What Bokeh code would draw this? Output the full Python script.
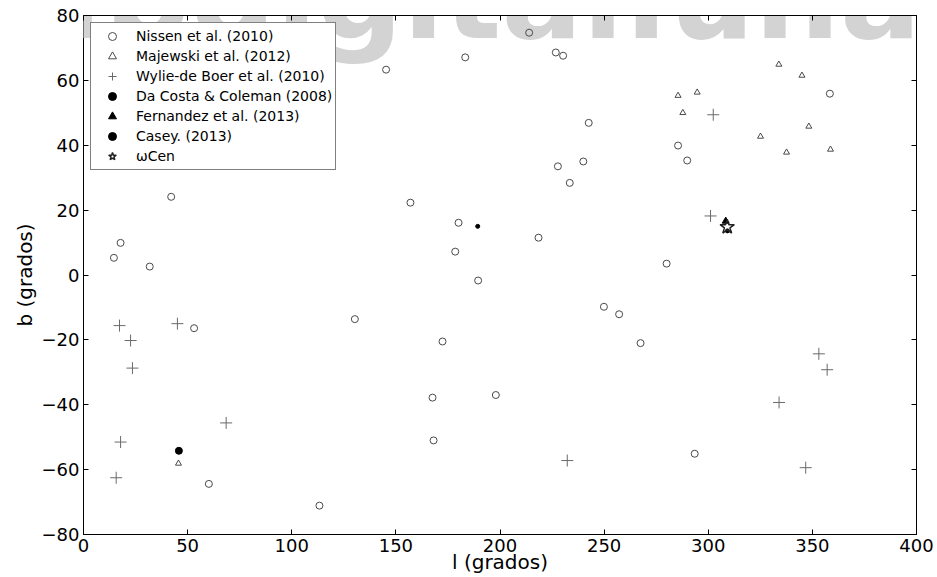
from bokeh.plotting import figure
from bokeh.models import Range1d, LinearAxis, FixedTicker, Label, Legend, LegendItem
from bokeh.embed import file_html
from bokeh.resources import INLINE

# ---- data ----
nissen_l = [14.6, 17.8, 31.8, 42.1, 53.1, 130.3, 60.2, 113.3, 145.3, 183.3, 214.0, 226.8,
            230.3, 242.6, 240.0, 227.8, 233.5, 157.0, 180.1, 218.5, 178.5, 280.0, 189.5,
            249.9, 257.2, 267.5, 172.4, 167.6, 198.0, 168.1, 358.4, 285.5, 289.9, 293.5]
nissen_b = [5.3, 9.9, 2.6, 24.1, -16.4, -13.6, -64.4, -71.1, 63.3, 67.1, 74.7, 68.6,
            67.6, 46.9, 35.0, 33.5, 28.4, 22.3, 16.1, 11.5, 7.2, 3.5, -1.7,
            -9.8, -12.1, -21.0, -20.5, -37.8, -37.0, -51.0, 55.9, 39.9, 35.3, -55.1]

majewski_l = [45.6, 285.5, 294.7, 287.8, 333.9, 345.0, 348.3, 325.1, 337.6, 358.7]
majewski_b = [-58.1, 55.3, 56.3, 50.0, 64.9, 61.5, 45.8, 42.7, 37.8, 38.7]

wylie_l = [17.3, 45.1, 22.6, 23.5, 17.8, 15.7, 68.5, 232.3, 302.4, 301.1, 353.1, 357.1, 334.0, 346.8]
wylie_b = [-15.6, -15.0, -20.2, -28.7, -51.5, -62.5, -45.6, -57.2, 49.4, 18.2, -24.3, -29.2, -39.3, -59.4]

dacosta_l = [189.3, 309.2]
dacosta_b = [15.0, 13.6]

fernandez_l = [308.4]
fernandez_b = [16.6]

casey_l = [45.8]
casey_b = [-54.2]

omega_l = [309.1]
omega_b = [14.8]

x_ticks = [0, 50, 100, 150, 200, 250, 300, 350, 400]
y_ticks = [-80, -60, -40, -20, 0, 20, 40, 60, 80]

watermark = "www.bdigital.unal.edu.co"

FONT = "DejaVu Sans"
MC = "#4a4a4a"

p = figure(width=937, height=577, output_backend="svg", toolbar_location=None,
           x_range=Range1d(0, 400), y_range=Range1d(-80, 80),
           min_border_left=83, min_border_right=21, min_border_top=15, min_border_bottom=43)
p.grid.visible = False
p.outline_line_color = "black"
p.outline_line_width = 1
p.background_fill_color = "white"
p.border_fill_color = "white"

# watermark (drawn as annotation so it is not clipped to the frame)
wm = Label(x=-168, y=86, text=watermark, text_font=FONT, text_font_style="bold",
           text_font_size="120px", text_color="#d3d3d3", text_baseline="alphabetic")
p.add_layout(wm)

def style_axis(ax, show_labels=True):
    ax.axis_line_color = "black"
    ax.major_tick_in = 5
    ax.major_tick_out = 0
    ax.minor_tick_in = 0
    ax.minor_tick_out = 0
    ax.major_tick_line_color = "black"
    ax.major_label_text_font = FONT
    ax.major_label_text_color = "black"
    ax.major_label_text_font_size = "18px"
    ax.major_label_standoff = 4

def lab(v):
    return str(v).replace("-", "\u2212")

p.xaxis.ticker = FixedTicker(ticks=x_ticks)
p.yaxis.ticker = FixedTicker(ticks=y_ticks)
style_axis(p.xaxis[0])
style_axis(p.yaxis[0])
p.xaxis.major_label_overrides = {v: lab(v) for v in x_ticks}
p.yaxis.major_label_overrides = {v: lab(v) for v in y_ticks}
p.xaxis.axis_label = "l (grados)"
p.yaxis.axis_label = "b (grados)"
for ax in (p.xaxis[0], p.yaxis[0]):
    ax.axis_label_text_font = FONT
    ax.axis_label_text_font_size = "20px"
    ax.axis_label_text_font_style = "normal"
    ax.axis_label_text_color = "black"
p.xaxis.axis_label_standoff = -5
p.yaxis.axis_label_standoff = 2

top = LinearAxis(ticker=FixedTicker(ticks=x_ticks), level="overlay")
style_axis(top, False)
top.major_label_overrides = {v: "" for v in x_ticks}
top.major_label_standoff = 0
p.add_layout(top, "above")
right = LinearAxis(ticker=FixedTicker(ticks=y_ticks))
style_axis(right, False)
right.major_label_overrides = {v: "" for v in y_ticks}
right.major_label_standoff = 0
p.add_layout(right, "right")

r1 = p.scatter(nissen_l, nissen_b, marker="circle", size=7, fill_color=None, line_color=MC, line_width=1, level="overlay")
r2 = p.scatter(majewski_l, majewski_b, marker="triangle", size=6, fill_color=None, line_color=MC, line_width=1, level="overlay")
r3 = p.scatter(wylie_l, wylie_b, marker="cross", size=12, line_color="#6a6a6a", line_width=1, level="overlay")
r4 = p.scatter(dacosta_l, dacosta_b, marker="circle", size=4, fill_color="black", line_color="black", level="overlay")
r5 = p.scatter(fernandez_l, fernandez_b, marker="triangle", size=7, fill_color="black", line_color="black", level="overlay")
r6 = p.scatter(casey_l, casey_b, marker="circle", size=7, fill_color="black", line_color="black", level="overlay")
r7 = p.scatter(omega_l, omega_b, marker="star", size=15, fill_color=None, line_color="#222222", line_width=1.5, level="overlay")

legend = Legend(items=[
    LegendItem(label="Nissen et al. (2010)", renderers=[r1]),
    LegendItem(label="Majewski et al. (2012)", renderers=[r2]),
    LegendItem(label="Wylie-de Boer et al. (2010)", renderers=[r3]),
    LegendItem(label="Da Costa & Coleman (2008)", renderers=[r4]),
    LegendItem(label="Fernandez et al. (2013)", renderers=[r5]),
    LegendItem(label="Casey. (2013)", renderers=[r6]),
    LegendItem(label="\u03c9Cen", renderers=[r7]),
], location="top_left")
legend.margin = 7
legend.padding = 3
legend.spacing = 0
legend.glyph_width = 36
legend.glyph_height = 20
legend.label_height = 20
legend.label_standoff = 6
legend.label_text_font = FONT
legend.label_text_font_size = "14px"
legend.label_text_color = "black"
legend.border_line_color = "black"
legend.border_line_width = 1
legend.background_fill_color = "white"
legend.background_fill_alpha = 1
p.add_layout(legend, "center")

open("out.html", "w").write(file_html(p, INLINE))
